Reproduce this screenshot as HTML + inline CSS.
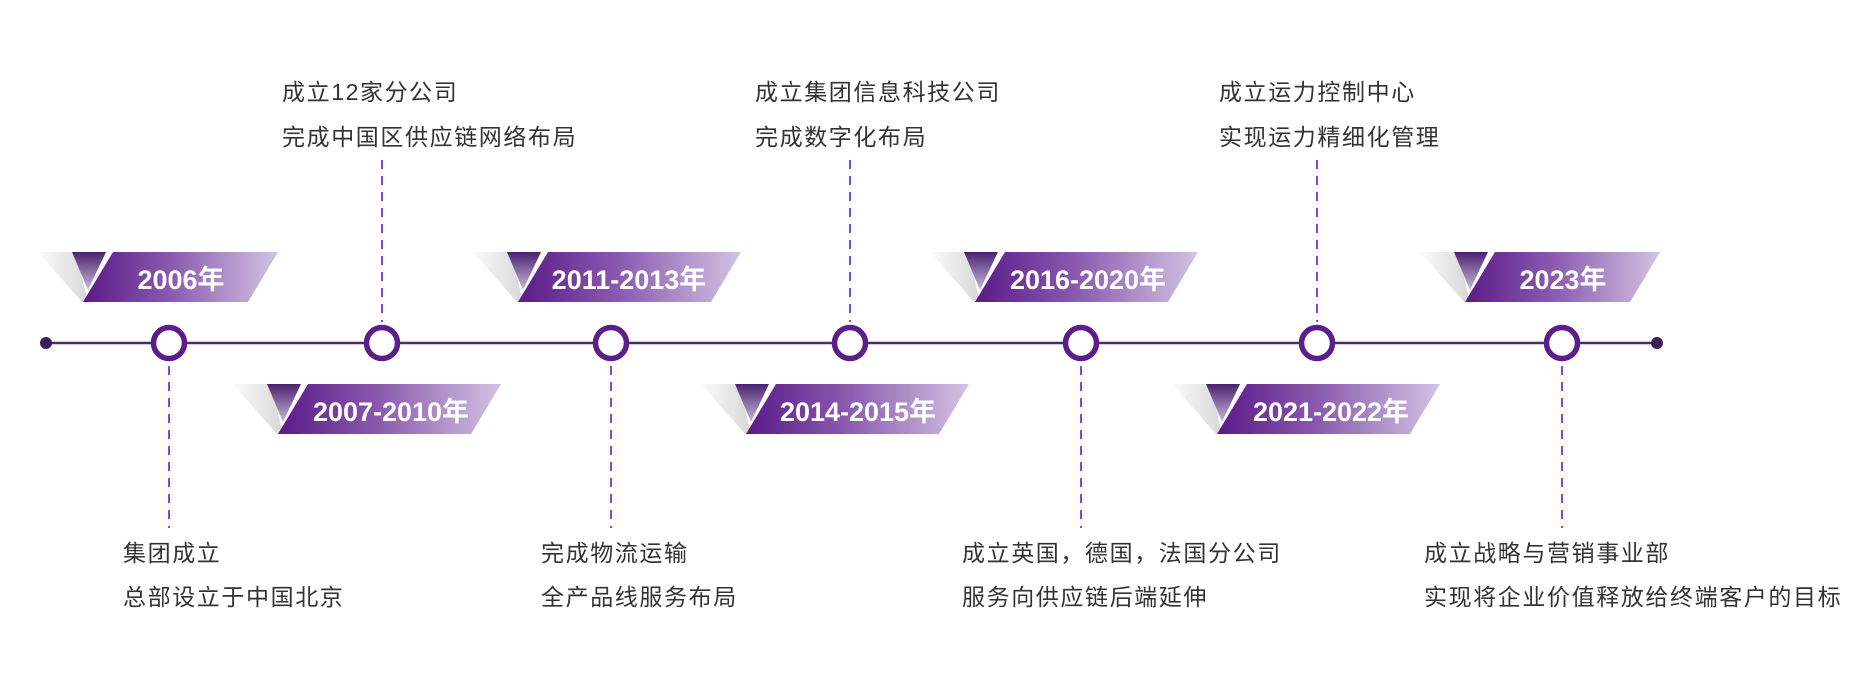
<!DOCTYPE html>
<html><head><meta charset="utf-8">
<style>
html,body{margin:0;padding:0;background:#fff;}
svg{display:block;}
.t{font-family:"Liberation Sans","Noto Sans CJK SC",sans-serif;font-size:23px;fill:#333;letter-spacing:1.6px;}
.y{font-family:"Liberation Sans","Noto Sans CJK SC",sans-serif;font-size:27px;font-weight:bold;fill:#fff;}
</style></head>
<body>
<svg width="1858" height="700" viewBox="0 0 1858 700" xmlns="http://www.w3.org/2000/svg">
<defs>
<linearGradient id="pg" x1="0" y1="0" x2="1" y2="0">
<stop offset="0" stop-color="#5a1a88"/><stop offset="0.45" stop-color="#8a5aae"/><stop offset="1" stop-color="#d3c3e3"/>
</linearGradient>
<linearGradient id="gg" x1="0" y1="0" x2="1" y2="0">
<stop offset="0" stop-color="#fbfbfb"/><stop offset="1" stop-color="#d8d8d8"/>
</linearGradient>
<linearGradient id="dg" x1="0" y1="0" x2="0" y2="1">
<stop offset="0" stop-color="#4a2270"/><stop offset="1" stop-color="#c8b8d8"/>
</linearGradient>
<g id="bS">
<polygon points="0,0 38,0 50,50 44,50" fill="url(#gg)"/>
<polygon points="34,0 68,0 50,38" fill="url(#dg)"/>
<polygon points="75,0 240,0 210,50 45,50" fill="url(#pg)"/>
</g>
<g id="bL">
<polygon points="0,0 38,0 50,50 44,50" fill="url(#gg)"/>
<polygon points="34,0 68,0 50,38" fill="url(#dg)"/>
<polygon points="75,0 268,0 238,50 45,50" fill="url(#pg)"/>
</g>
</defs>

<line x1="46" y1="343" x2="1657" y2="343" stroke="#4b2a6e" stroke-width="2.5"/>
<circle cx="46" cy="343" r="6" fill="#3f1d5c"/>
<circle cx="1657" cy="343" r="6" fill="#3f1d5c"/>

<g stroke="#8844dd" stroke-width="2" stroke-dasharray="9,7">
<line x1="382" y1="160" x2="382" y2="322"/>
<line x1="850" y1="160" x2="850" y2="322"/>
<line x1="1317" y1="160" x2="1317" y2="322"/>
<line x1="169" y1="366" x2="169" y2="528"/>
<line x1="611" y1="366" x2="611" y2="528"/>
<line x1="1081" y1="366" x2="1081" y2="528"/>
<line x1="1562" y1="366" x2="1562" y2="528"/>
</g>

<g fill="#fff" stroke="#5c1f8a" stroke-width="5.5">
<circle cx="169" cy="343" r="15.5"/>
<circle cx="382" cy="343" r="15.5"/>
<circle cx="611" cy="343" r="15.5"/>
<circle cx="850" cy="343" r="15.5"/>
<circle cx="1081" cy="343" r="15.5"/>
<circle cx="1317" cy="343" r="15.5"/>
<circle cx="1562" cy="343" r="15.5"/>
</g>

<use href="#bS" x="38" y="252"/>
<use href="#bL" x="233" y="384"/>
<use href="#bL" x="473" y="252"/>
<use href="#bL" x="701" y="384"/>
<use href="#bL" x="930" y="252"/>
<use href="#bL" x="1172" y="384"/>
<use href="#bS" x="1420" y="252"/>

<g class="y" text-anchor="middle">
<text x="181" y="289">2006年</text>
<text x="391" y="421">2007-2010年</text>
<text x="629" y="289">2011-2013年</text>
<text x="858" y="421">2014-2015年</text>
<text x="1088" y="289">2016-2020年</text>
<text x="1331" y="421">2021-2022年</text>
<text x="1563" y="289">2023年</text>
</g>

<g class="t">
<text x="282" y="100">成立12家分公司</text>
<text x="282" y="145">完成中国区供应链网络布局</text>
<text x="755" y="100">成立集团信息科技公司</text>
<text x="755" y="145">完成数字化布局</text>
<text x="1219" y="100">成立运力控制中心</text>
<text x="1219" y="145">实现运力精细化管理</text>
<text x="123" y="561">集团成立</text>
<text x="123" y="605">总部设立于中国北京</text>
<text x="541" y="561">完成物流运输</text>
<text x="541" y="605">全产品线服务布局</text>
<text x="962" y="561">成立英国，德国，法国分公司</text>
<text x="962" y="605">服务向供应链后端延伸</text>
<text x="1424" y="561">成立战略与营销事业部</text>
<text x="1424" y="605">实现将企业价值释放给终端客户的目标</text>
</g>
</svg>
</body></html>
